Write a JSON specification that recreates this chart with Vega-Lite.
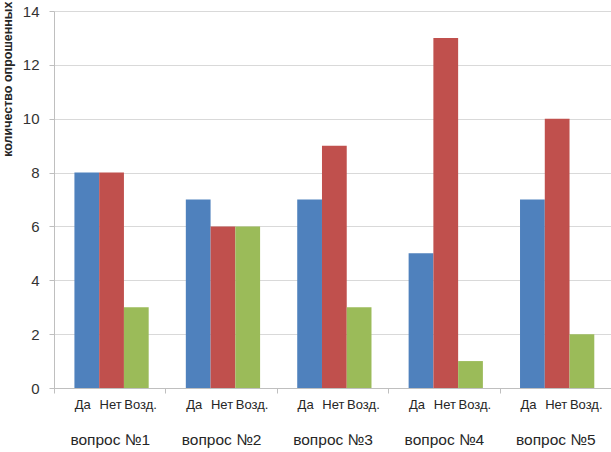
{
  "$schema": "https://vega.github.io/schema/vega-lite/v6.json",
  "width": 557,
  "height": 377,
  "autosize": {"type": "none"},
  "padding": {"left": 54, "top": 11, "right": 0, "bottom": 64},
  "config": {"view": {"stroke": null}, "font": "Liberation Sans"},
  "data": {
    "values": [
      {"question": "вопрос №1", "answer": "Да", "count": 8},
      {"question": "вопрос №1", "answer": "Нет", "count": 8},
      {"question": "вопрос №1", "answer": "Возд.", "count": 3},
      {"question": "вопрос №2", "answer": "Да", "count": 7},
      {"question": "вопрос №2", "answer": "Нет", "count": 6},
      {"question": "вопрос №2", "answer": "Возд.", "count": 6},
      {"question": "вопрос №3", "answer": "Да", "count": 7},
      {"question": "вопрос №3", "answer": "Нет", "count": 9},
      {"question": "вопрос №3", "answer": "Возд.", "count": 3},
      {"question": "вопрос №4", "answer": "Да", "count": 5},
      {"question": "вопрос №4", "answer": "Нет", "count": 13},
      {"question": "вопрос №4", "answer": "Возд.", "count": 1},
      {"question": "вопрос №5", "answer": "Да", "count": 7},
      {"question": "вопрос №5", "answer": "Нет", "count": 10},
      {"question": "вопрос №5", "answer": "Возд.", "count": 2}
    ]
  },
  "encoding": {
    "x": {
      "field": "question",
      "type": "nominal",
      "sort": null,
      "scale": {"paddingInner": 0, "paddingOuter": 0},
      "axis": {
        "title": null,
        "labelAngle": 0,
        "labelFontSize": 15.5,
        "labelColor": "#262626",
        "labelPadding": 39,
        "tickBand": "extent",
        "tickSize": 5,
        "tickColor": "#bfbfbf",
        "domainColor": "#bfbfbf"
      }
    },
    "xOffset": {
      "field": "answer",
      "type": "nominal",
      "sort": ["Да", "Нет", "Возд."],
      "scale": {"paddingInner": 0, "paddingOuter": 0.75, "align": 0.55}
    }
  },
  "layer": [
    {
      "mark": {"type": "bar"},
      "encoding": {
        "y": {
          "field": "count",
          "type": "quantitative",
          "scale": {"domain": [0, 14], "nice": false},
          "axis": {
            "values": [0, 2, 4, 6, 8, 10, 12, 14],
            "title": "количество опрошенных",
            "titleFontSize": 12.5,
            "titleFontWeight": "bold",
            "titleColor": "#262626",
            "titleAngle": -90,
            "titleAlign": "right",
            "titleBaseline": "bottom",
            "titleX": -40,
            "titleY": -10,
            "labelFontSize": 15,
            "labelColor": "#333333",
            "labelPadding": 10,
            "tickSize": 5,
            "tickColor": "#bfbfbf",
            "domainColor": "#bfbfbf",
            "gridColor": "#d9d9d9"
          }
        },
        "color": {
          "field": "answer",
          "type": "nominal",
          "scale": {"domain": ["Да", "Нет", "Возд."], "range": ["#4f81bd", "#c0504d", "#9bbb59"]},
          "legend": null
        }
      }
    },
    {
      "mark": {"type": "text", "align": "left", "baseline": "middle", "dx": -12, "dy": 17, "fontSize": 13, "color": "#262626"},
      "encoding": {
        "y": {"datum": 0},
        "text": {"field": "answer"}
      }
    }
  ]
}
